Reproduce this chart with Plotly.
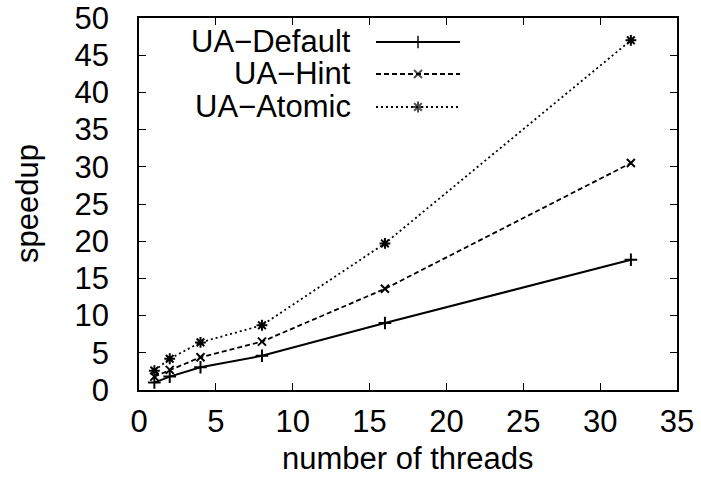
import plotly.graph_objects as go

threads = [1, 2, 4, 8, 16, 32]
ua_default = [1.0, 1.8, 3.05, 4.6, 9.0, 17.5]
ua_hint = [1.8, 2.7, 4.4, 6.5, 13.6, 30.5]
ua_atomic = [2.6, 4.2, 6.4, 8.7, 19.7, 47.0]

names = ["UA\u2212Default", "UA\u2212Hint", "UA\u2212Atomic"]
series = [ua_default, ua_hint, ua_atomic]
dashes = ["solid", "5px,3px", "2px,3px"]
widths = [2.0, 1.8, 1.8]
symbols = ["cross-thin-open", "x-thin-open", "asterisk-open"]
msizes = [9, 8, 9]

FONT = "Liberation Sans, Arial, sans-serif"
FS = 31
fig = go.Figure()

for name, ys, d, w, s, ms in zip(names, series, dashes, widths, symbols, msizes):
    fig.add_trace(go.Scatter(
        x=threads, y=ys, mode="lines+markers", name=name, showlegend=False,
        line=dict(color="black", width=w, dash=d),
        marker=dict(symbol=s, size=ms, color="black", line=dict(color="black", width=2)),
    ))

# manual gnuplot-style legend (text right-aligned, sample on the right)
leg_y = [0.9355, 0.8495, 0.7608]
x0, xm, x1 = 0.4405, 0.5186, 0.5967
for name, d, w, s, ms, yy in zip(names, dashes, widths, symbols, msizes, leg_y):
    fig.add_trace(go.Scatter(
        x=[x0, xm, x1], y=[yy, yy, yy], mode="lines+markers", showlegend=False,
        xaxis="x2", yaxis="y2", hoverinfo="skip",
        line=dict(color="black", width=w, dash=d),
        marker=dict(symbol=s, size=[0, ms, 0], color="black", line=dict(color="black", width=2)),
    ))
    fig.add_annotation(x=0.398, y=yy, xref="paper", yref="paper", text=name,
                       showarrow=False, xanchor="right", yanchor="middle",
                       font=dict(family=FONT, size=FS, color="black"))

# axis titles
fig.add_annotation(x=0.5, y=0, xref="paper", yref="paper", text="number of threads",
                   showarrow=False, xanchor="center", yanchor="middle", yshift=-68,
                   font=dict(family=FONT, size=FS, color="black"))
fig.add_annotation(x=0, y=0.5, xref="paper", yref="paper", text="speedup",
                   showarrow=False, xanchor="center", yanchor="middle", xshift=-112,
                   textangle=-90, font=dict(family=FONT, size=FS, color="black"))

axis_common = dict(
    showgrid=False, zeroline=False, showline=True, linecolor="black", linewidth=1.5,
    mirror="ticks", ticks="inside", ticklen=7, tickwidth=1, tickcolor="black",
    tickfont=dict(family=FONT, size=FS, color="black"), automargin=False,
)

fig.update_layout(
    width=701, height=489,
    margin=dict(l=139, r=24, t=18, b=99),
    paper_bgcolor="white", plot_bgcolor="white",
    xaxis=dict(range=[0, 35], dtick=5, tick0=0, ticklabelstandoff=3, **axis_common),
    yaxis=dict(range=[0, 50], dtick=5, tick0=0, ticklabelstandoff=22, **axis_common),
    xaxis2=dict(range=[0, 1], overlaying="x", visible=False),
    yaxis2=dict(range=[0, 1], overlaying="y", visible=False),
    showlegend=False,
)

fig.write_html("out.html", config={"displayModeBar": False},
               post_script="document.body.style.margin='0';")
